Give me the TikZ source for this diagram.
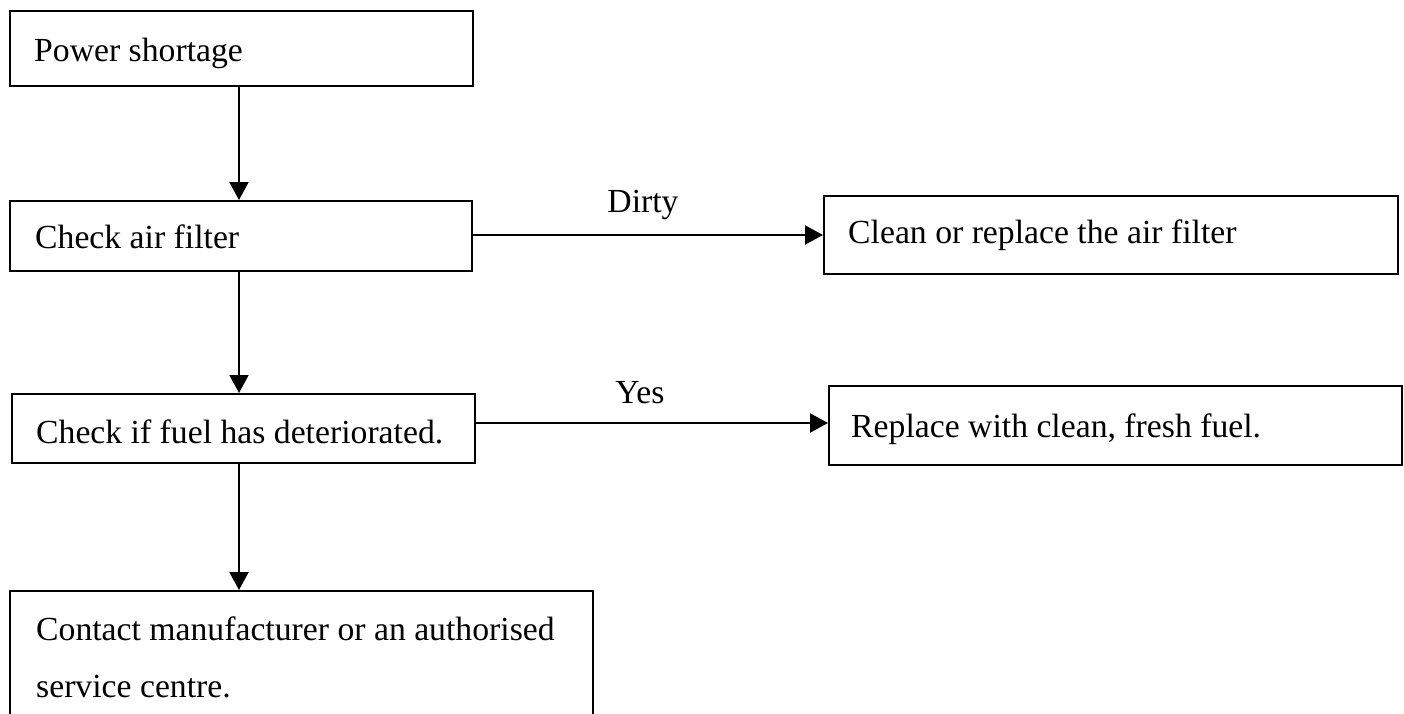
\documentclass[tikz,border=0pt]{standalone}
\usepackage{fontspec}
\setmainfont{Liberation Serif}
\usetikzlibrary{arrows.meta}
\begin{document}
\begin{tikzpicture}[x=1pt,y=-1pt,
  box/.style={draw,line width=1.6pt,rectangle,anchor=north west,inner sep=0pt},
  txt/.style={font=\fontsize{33.7}{40}\selectfont,inner sep=0pt,anchor=base west},
  arr/.style={line width=2pt,-{Triangle[length=18pt,width=19pt]}},
  lbl/.style={font=\fontsize{33.7}{40}\selectfont,inner sep=0pt,anchor=base}]
\useasboundingbox (0,0) rectangle (1404,713);
\clip (0,0) rectangle (1404,713);
\fill[white] (0,0) rectangle (1404,713);
% boxes
\node[box,minimum width=463pt,minimum height=75pt] (b1) at (9,10) {};
\node[box,minimum width=462pt,minimum height=70pt] (b2) at (9,200) {};
\node[box,minimum width=463pt,minimum height=69pt] (b3) at (11,393) {};
\node[box,minimum width=583pt,minimum height=160pt] (b4) at (9,590) {};
\node[box,minimum width=574pt,minimum height=78pt] (c1) at (823,195) {};
\node[box,minimum width=573pt,minimum height=79pt] (c2) at (828,385) {};
% texts
\node[txt] (t1) at (34,61) {Power shortage};
\node[txt] (t2) at (35,248) {Check air filter};
\node[txt] (t3) at (36,443) {Check if fuel has deteriorated.};
\node[txt] (t4a) at (36,640) {Contact manufacturer or an authorised};
\node[txt] (t4b) at (36,697) {service centre.};
\node[txt] (t5) at (848,243) {Clean or replace the air filter};
\node[txt] (t6) at (851,437) {Replace with clean, fresh fuel.};
% connectors
\coordinate (ax) at (239,0);
\coordinate (ya) at (0,235);
\coordinate (yb) at (0,423);
\draw[arr] (b1.south -| ax) -- (b2.north -| ax);
\draw[arr] (b2.south -| ax) -- (b3.north -| ax);
\draw[arr] (b3.south -| ax) -- (b4.north -| ax);
\draw[arr] (b2.east |- ya) -- (c1.west |- ya);
\draw[arr] (b3.east |- yb) -- (c2.west |- yb);
\node[lbl] (dirty) at (643,212) {Dirty};
\node[lbl] (yes) at (640,403) {Yes};
\end{tikzpicture}
\end{document}
